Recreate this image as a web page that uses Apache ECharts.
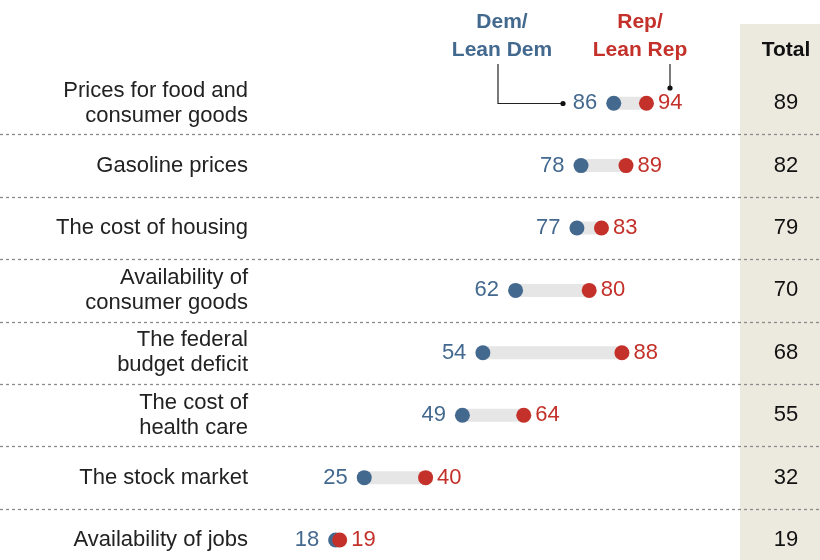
<!DOCTYPE html>
<html><head><meta charset="utf-8">
<script src="https://cdn.jsdelivr.net/npm/echarts@6/dist/echarts.min.js"></script>
<style>html,body{margin:0;padding:0;background:#fff}#c{width:820px;height:560px}</style>
</head><body><div id="c"></div>
<script>
const categories = ['Prices for food and\nconsumer goods','Gasoline prices','The cost of housing','Availability of\nconsumer goods','The federal\nbudget deficit','The cost of\nhealth care','The stock market','Availability of jobs'];
const demValues = [86,78,77,62,54,49,25,18];
const repValues = [94,89,83,80,88,64,40,19];
const totalValues = [89,82,79,70,68,55,32,19];
const demTitle = 'Dem/\nLean Dem';
const repTitle = 'Rep/\nLean Rep';
const totalTitle = 'Total';

const DEM = '#44698f', REP = '#c3312a', FONT = 'Liberation Sans';
const chart = echarts.init(document.getElementById('c'), null, {renderer:'canvas'});
const idx = categories.map((c,i)=>i);
chart.setOption({
  animation:false,
  textStyle:{fontFamily:FONT},
  grid:{left:262, width:409, top:72, bottom:0, containLabel:false},
  xAxis:{type:'value', min:0, max:100, show:false},
  yAxis:{type:'value', min:-0.5, max:7.32, inverse:true, show:false},
  graphic:[
    {type:'rect', z:-10, shape:{x:740,y:24,width:80,height:536}, style:{fill:'#eceadf'}},
    {type:'text', style:{text:demTitle, x:502, y:36, align:'center', verticalAlign:'middle', lineHeight:28, font:'bold 21px "Liberation Sans"', fill:DEM}},
    {type:'text', style:{text:repTitle, x:640, y:36, align:'center', verticalAlign:'middle', lineHeight:28, font:'bold 21px "Liberation Sans"', fill:REP}},
    {type:'text', style:{text:totalTitle, x:786, y:50, align:'center', verticalAlign:'middle', font:'bold 21px "Liberation Sans"', fill:'#111'}},
    {type:'polyline', shape:{points:[[498,64],[498,103.5],[563,103.5]]}, style:{stroke:'#222', lineWidth:1.2, fill:null}},
    {type:'circle', shape:{cx:563,cy:103.5,r:2.6}, style:{fill:'#111'}},
    {type:'polyline', shape:{points:[[670,64],[670,88]]}, style:{stroke:'#222', lineWidth:1.2, fill:null}},
    {type:'circle', shape:{cx:670,cy:88,r:2.6}, style:{fill:'#111'}}
  ],
  series:[
    {type:'custom', z:1, silent:true, clip:false,
      data: idx.slice(0, idx.length-1).map(i=>[0, i+0.5]),
      encode:{x:0, y:1},
      renderItem:(p,api)=>{
        const c = api.coord([0, api.value(1)]);
        const y = Math.round(c[1])+0.5;
        return {type:'line', shape:{x1:0,y1:y,x2:820,y2:y}, style:{stroke:'#8a8a8a', lineWidth:1.3, lineDash:[3,3]}};
      }},
    {type:'custom', z:1, silent:true, clip:false,
      data: idx.map(i=>[0, i]),
      encode:{x:0, y:1},
      renderItem:(p,api)=>{
        const c = api.coord([0, api.value(1)]);
        return {type:'text', style:{text:categories[p.dataIndex], x:248, y:c[1], align:'right', verticalAlign:'middle', lineHeight:25, font:'22px "Liberation Sans"', fill:'#222'}};
      }},
    {type:'custom', z:2, silent:true,
      data: idx.map(i=>[demValues[i], repValues[i], i]),
      encode:{x:[0,1], y:2},
      renderItem:(p,api)=>{
        const a = api.coord([api.value(0), api.value(2)]);
        const b = api.coord([api.value(1), api.value(2)]);
        return {type:'rect', shape:{x:a[0], y:a[1]-6.5, width:b[0]-a[0], height:13}, style:{fill:'#e6e6e6'}};
      }},
    {type:'scatter', z:3, symbolSize:15, itemStyle:{color:DEM, opacity:1},
      data: idx.map(i=>[demValues[i], i]),
      label:{show:true, position:'left', distance:9, fontSize:22, color:DEM, fontFamily:FONT, formatter:p=>p.value[0]}},
    {type:'scatter', z:4, symbolSize:15, itemStyle:{color:REP, opacity:1},
      data: idx.map(i=>[repValues[i], i]),
      label:{show:true, position:'right', distance:4, fontSize:22, color:REP, fontFamily:FONT, formatter:p=>p.value[0]}},
    {type:'custom', z:5, silent:true, clip:false,
      data: idx.map(i=>[totalValues[i], i]),
      encode:{y:1},
      renderItem:(p,api)=>{
        const c = api.coord([0, api.value(1)]);
        return {type:'text', style:{text:String(api.value(0)), x:786, y:c[1], align:'center', verticalAlign:'middle', font:'22px "Liberation Sans"', fill:'#111'}};
      }}
  ]
});
</script></body></html>
